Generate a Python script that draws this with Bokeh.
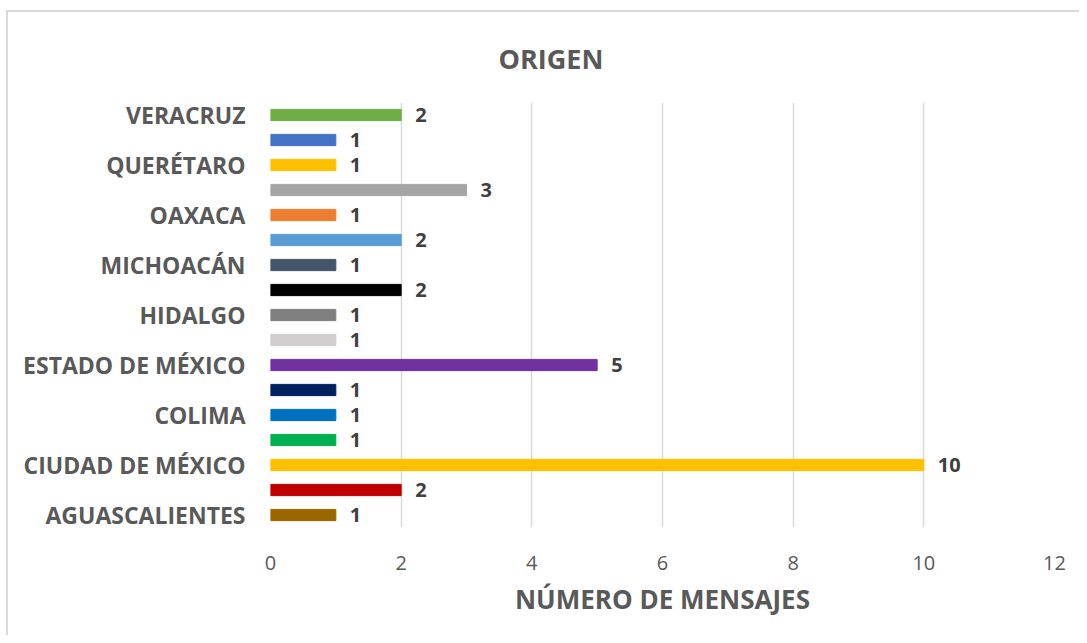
from bokeh.plotting import figure
from bokeh.models import ColumnDataSource, FixedTicker, Range1d
from bokeh.core.properties import value
from bokeh.embed import file_html
from bokeh.resources import INLINE

estados = ["AGUASCALIENTES", "BAJA CALIFORNIA", "CIUDAD DE MÉXICO", "COAHUILA", "COLIMA",
           "DURANGO", "ESTADO DE MÉXICO", "GUANAJUATO", "HIDALGO", "JALISCO", "MICHOACÁN",
           "MORELOS", "OAXACA", "PUEBLA", "QUERÉTARO", "SAN LUIS POTOSÍ", "VERACRUZ"]
mensajes = [1, 2, 10, 1, 1, 1, 5, 1, 1, 2, 1, 2, 1, 3, 1, 1, 2]
colores = ["#996600", "#C00000", "#FFC000", "#00B050", "#0070C0", "#002060", "#7030A0",
           "#D0CECE", "#808080", "#000000", "#44546A", "#5B9BD5", "#ED7D31", "#A5A5A5",
           "#FFC000", "#4472C4", "#70AD47"]
x_ticks = [0, 2, 4, 6, 8, 10, 12]

FONT = "Open Sans"
pos = list(range(len(estados)))
src = ColumnDataSource(dict(y=pos, v=mensajes, c=colores, t=[str(m) for m in mensajes]))

p = figure(width=1073, height=625, output_backend="svg", toolbar_location=None,
           x_range=Range1d(0, 12), y_range=Range1d(-0.5, len(estados) - 0.5),
           min_border_left=262, min_border_right=27, min_border_top=90, min_border_bottom=110)
p.outline_line_color = None
p.border_fill_color = "white"
p.styles = {"margin-left": "6px", "margin-top": "10px",
            "border-left": "2px solid #D9D9D9", "border-top": "2px solid #D9D9D9"}

p.hbar(y="y", right="v", left=0, height=0.45, color="c", source=src)
p.text(x="v", y="y", text="t", source=src, x_offset=14, text_baseline="middle",
       text_align="left", text_font=value(FONT), text_font_style="bold",
       text_font_size="20px", text_color="#404040")

p.title.text = "ORIGEN"
p.title.align = "left"
p.title.offset = 228
p.title.vertical_align = "top"
p.title.standoff = 48
p.title.text_font = FONT
p.title.text_font_style = "bold"
p.title.text_font_size = "27px"
p.title.text_color = "#595959"

p.xaxis.ticker = FixedTicker(ticks=x_ticks)
p.xaxis.axis_line_color = None
p.xaxis.major_tick_line_color = None
p.xaxis.minor_tick_line_color = None
p.xaxis.major_label_text_font = FONT
p.xaxis.major_label_text_font_size = "20px"
p.xaxis.major_label_text_color = "#595959"
p.xaxis.major_label_standoff = 22
p.xaxis.axis_label = "NÚMERO DE MENSAJES"
p.xaxis.axis_label_text_font = FONT
p.xaxis.axis_label_text_font_style = "bold"
p.xaxis.axis_label_text_font_size = "26px"
p.xaxis.axis_label_text_color = "#595959"
p.xaxis.axis_label_standoff = 8

p.yaxis.ticker = FixedTicker(ticks=pos[::2])
p.yaxis.major_label_overrides = {i: estados[i] for i in pos[::2]}
p.yaxis.axis_line_color = None
p.yaxis.major_tick_line_color = None
p.yaxis.minor_tick_line_color = None
p.yaxis.major_label_text_font = FONT
p.yaxis.major_label_text_font_style = "bold"
p.yaxis.major_label_text_font_size = "23px"
p.yaxis.major_label_text_color = "#595959"
p.yaxis.major_label_standoff = 19

p.ygrid.grid_line_color = None
p.xgrid.grid_line_color = "#D9D9D9"
p.xgrid.grid_line_width = 1.5

open("out.html", "w").write(file_html(p, INLINE))
